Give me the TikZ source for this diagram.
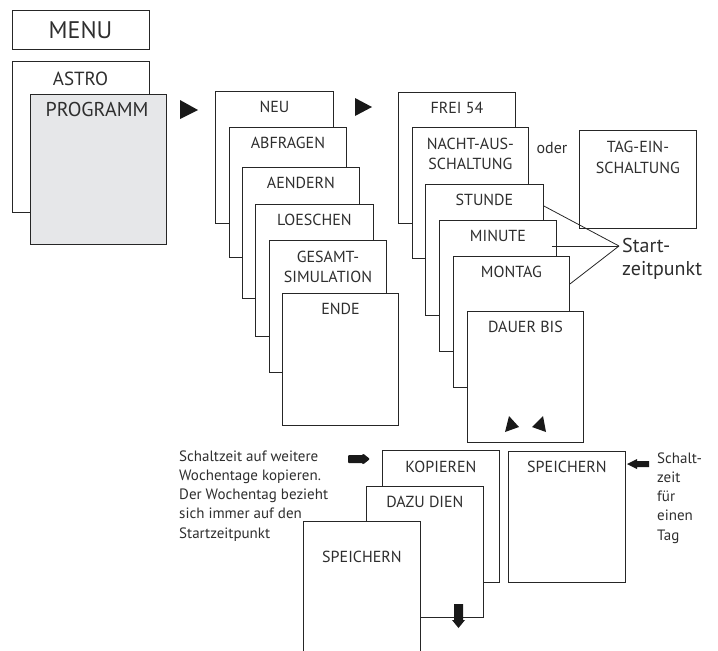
\documentclass[tikz,border=0pt]{standalone}
\usepackage{fontspec}
\setmainfont{PT Sans}
\definecolor{linec}{HTML}{262626}
\definecolor{txtc}{HTML}{2E2E2E}
\definecolor{greyfill}{HTML}{E6E7E9}
\begin{document}
\begin{tikzpicture}[x=1pt,y=-1pt,
  box/.style={draw=linec, line width=0.9pt, fill=white, inner sep=0pt, anchor=north west},
  std/.style={box, minimum width=117pt, minimum height=131pt},
  lbl/.style={text=txtc, font=\fontsize{16}{20.5}\selectfont, align=center, anchor=base, inner sep=0pt},
  tri/.style={fill=black!90, draw=none},
  conn/.style={draw=linec, line width=0.8pt},
  note/.style={text=txtc, font=\fontsize{15}{19.3}\selectfont, align=left, anchor=base west, inner sep=0pt}
]
\useasboundingbox (0,0) rectangle (718,651);
\clip (0,0) rectangle (718,651);

% left column
\node[box, minimum width=137pt, minimum height=39pt] (menu) at (12,10) {};
\node[lbl, font=\fontsize{24}{26}\selectfont] (menut) at (80.5,38.4) {MENU};
\node[box, minimum width=137pt, minimum height=151pt] (astro) at (12,61) {};
\node[lbl, font=\fontsize{19}{22}\selectfont] (astrot) at (80.5,85.6) {ASTRO};
\node[box, fill=greyfill, minimum width=136pt, minimum height=150pt] (prog) at (30,94) {};
\node[lbl, font=\fontsize{20}{24}\selectfont] (progt) at (97,116.2) {PROGRAMM};

% arrows
\fill[tri] (180,100) -- (198,110) -- (180,119) -- cycle;
\fill[tri] (355,98) -- (372,107) -- (355,116) -- cycle;

% middle stack
\node[std, minimum width=118pt, minimum height=132pt] (neu) at (215,91) {};
\node[lbl] at ([yshift=-21.5pt]neu.north) {NEU};
\node[std, minimum height=130pt] (abf) at (229,127) {};
\node[lbl] at ([yshift=-21.5pt]abf.north) {ABFRAGEN};
\node[std] (aend) at (242,167) {};
\node[lbl] at ([yshift=-21.5pt]aend.north) {AENDERN};
\node[std, minimum width=118pt, minimum height=132pt] (loe) at (255,204) {};
\node[lbl] at ([yshift=-21.5pt]loe.north) {LOESCHEN};
\node[std, minimum height=132pt] (ges) at (269,240) {};
\node[lbl] at ([yshift=-42.5pt]ges.north) {GESAMT-\\SIMULATION};
\node[std, minimum width=116pt, minimum height=132pt] (ende) at (282,293) {};
\node[lbl] at ([yshift=-21.5pt]ende.north) {ENDE};

% right stack
\node[std] (frei) at (398,92) {};
\node[lbl] at ([yshift=-21.5pt]frei.north) {FREI 54};
\node[std, minimum width=116pt] (nacht) at (412,127) {};
\node[lbl] at ([yshift=-42.5pt]nacht.north) {NACHT-AUS-\\SCHALTUNG};
\node[lbl] (oder) at (552,153) {oder};
\node[box, minimum width=117pt, minimum height=98pt] (tag) at (579,130) {};
\node[lbl] at ([yshift=-43pt]tag.north) {TAG-EIN-\\SCHALTUNG};
\node[std, minimum width=118pt] (stunde) at (425,184) {};
\node[lbl] at ([yshift=-21.5pt]stunde.north) {STUNDE};
\node[std] (minute) at (439,220) {};
\node[lbl] at ([yshift=-21.5pt]minute.north) {MINUTE};
\node[std, minimum width=116pt] (montag) at (453,256) {};
\node[lbl] at ([yshift=-21.5pt]montag.north) {MONTAG};
\node[std, minimum width=116pt] (dauer) at (467,311) {};
\node[lbl] at ([yshift=-21.5pt]dauer.north) {DAUER BIS};
\fill[tri] (509,416) -- (519,427) -- (505,432) -- cycle;
\fill[tri] (543,416) -- (546,432) -- (532,427) -- cycle;

% Startzeitpunkt
\node[lbl, font=\fontsize{20}{23}\selectfont, anchor=base west, align=left] (start) at (622,275) {Start-\\zeitpunkt};
\coordinate (apex) at (619,246);
\coordinate (ps) at ([yshift=-22pt]stunde.north east);
\coordinate (pm) at ([xshift=-5pt,yshift=-26pt]minute.north east);
\coordinate (pt) at ([yshift=-28pt]montag.north east);
\draw[conn] (ps) -- (apex);
\draw[conn] (pm) -- (apex);
\draw[conn] (pt) -- (apex);

% bottom
\node[note] (noteL) at (179,538.2) {Schaltzeit auf weitere\\Wochentage kopieren.\\Der Wochentag bezieht\\sich immer auf den\\Startzeitpunkt};
\fill[tri, rounded corners=1pt] (348,455) -- (363,455) -- (363,453.5) -- (370,459) -- (363,464.5) -- (363,463) -- (348,463) -- cycle;
\node[std, minimum height=132pt] (kop) at (382,450) {};
\node[lbl] at ([yshift=-22pt]kop.north) {KOPIEREN};
\node[std] (dazu) at (366,486) {};
\node[lbl] at ([yshift=-21.5pt]dazu.north) {DAZU DIEN};
\node[std, minimum height=160pt] (speiL) at (303,521) {};
\node[lbl] at ([yshift=-41pt]speiL.north) {SPEICHERN};
\fill[tri] (454,604) -- (463,604) -- (463,620) -- (465,620) -- (458.5,628) -- (452,620) -- (454,620) -- cycle;

\node[std] (speiR) at (508,451) {};
\node[lbl] at ([yshift=-21.5pt]speiR.north) {SPEICHERN};
\fill[tri] (649,461) -- (637,461) -- (637,459) -- (627,464) -- (637,469) -- (637,467) -- (649,467) -- cycle;
\node[note] (noteR) at (657,540.2) {Schalt-\\zeit\\für\\einen\\Tag};
\end{tikzpicture}
\end{document}
